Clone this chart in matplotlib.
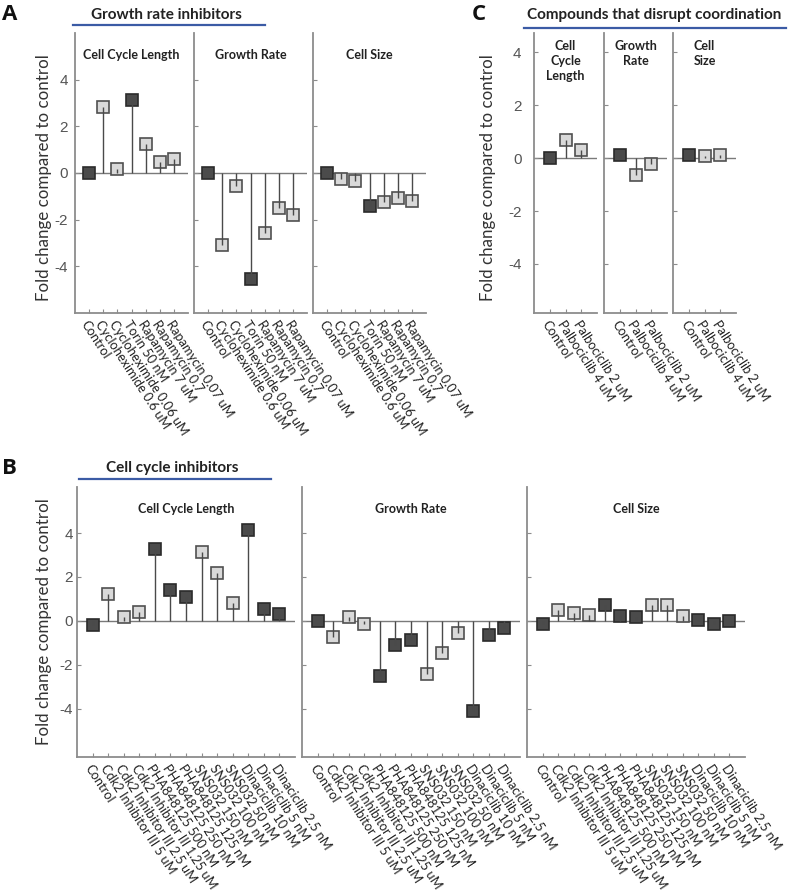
import matplotlib
matplotlib.use('Agg')
from matplotlib import pyplot as plt
from matplotlib.lines import Line2D

W, H = 790, 890
DARK_FACE = '#4b4b4b'
DARK_EDGE = '#2b2b2b'
LIGHT_FACE = '#d9d9d9'
LIGHT_EDGE = '#505050'
STEM = '#4a4a4a'
AXIS = '#8c8c8c'
BLUE = '#3b5ba5'
LABEL_FONT = 'Lato'
NUM_FONT = 'Liberation Sans'

# ---- data ----
A_LABELS = ['Control', 'Cycloheximide 0.6 uM', 'Cycloheximide 0.06 uM', 'Torin 50 nM',
            'Rapamycin 7 uM', 'Rapamycin 0.7', 'Rapamycin 0.07 uM']
A_DARK = [1, 0, 0, 1, 0, 0, 0]
A_CYCLE = [0.0, 2.83, 0.19, 3.13, 1.26, 0.46, 0.60]
A_GROWTH = [0.0, -3.08, -0.54, -4.55, -2.55, -1.52, -1.79]
A_SIZE = [0.0, -0.26, -0.33, -1.40, -1.26, -1.05, -1.18]

C_LABELS = ['Control', 'Palbociclib 4 uM', 'Palbociclib 2 uM']
C_DARK = [1, 0, 0]
C_CYCLE = [0.0, 0.69, 0.29]
C_GROWTH = [0.11, -0.65, -0.21]
C_SIZE = [0.10, 0.06, 0.10]

B_LABELS = ['Control', 'Cdk2 Inhibitor III 5 uM', 'Cdk2 Inhibitor III 2.5 uM',
            'Cdk2 Inhibitor III 1.25 uM', 'PHA848125 500 nM', 'PHA848125 250 nM',
            'PHA848125 125 nM', 'SNS032 150 nM', 'SNS032 100 nM', 'SNS032 50 nM',
            'Dinaciclib 10 nM', 'Dinaciclib 5 nM', 'Dinaciclib 2.5 nM']
B_DARK = [1, 0, 0, 0, 1, 1, 1, 0, 0, 0, 1, 1, 1]
B_CYCLE = [-0.17, 1.23, 0.20, 0.42, 3.26, 1.41, 1.08, 3.12, 2.17, 0.82, 4.15, 0.52, 0.30]
B_GROWTH = [0.0, -0.74, 0.18, -0.14, -2.53, -1.12, -0.88, -2.40, -1.45, -0.55, -4.10, -0.64, -0.32]
B_SIZE = [-0.15, 0.48, 0.35, 0.27, 0.74, 0.24, 0.17, 0.71, 0.71, 0.23, 0.05, -0.12, -0.02]

YTICKS = [-4, -2, 0, 2, 4]

fig = plt.figure(figsize=(W / 100, H / 100), dpi=100)


def px(x0, y0, x1, y1):
    # pixel box (from top-left) -> figure rect
    return [x0 / W, 1 - y1 / H, (x1 - x0) / W, (y1 - y0) / H]


def stem_panel(rect, vals, dark, labels, ylim, title, ms, first=False, ypad=5,
               title_y=0.92, title_va='center'):
    ax = fig.add_axes(rect)
    x = list(range(1, len(vals) + 1))
    ax.axhline(0, color='#7a7a7a', lw=1.0, zorder=1)
    for xi, v, d in zip(x, vals, dark):
        ax.plot(xi, v, 's', ms=ms, mew=1.2,
                mfc=DARK_FACE if d else LIGHT_FACE,
                mec=DARK_EDGE if d else LIGHT_EDGE, zorder=2)
    ax.vlines(x, 0, vals, color=STEM, lw=1.0, zorder=3)
    ax.set_xlim(0, len(vals) + 1)
    ax.set_ylim(*ylim)
    ax.set_xticks(x)
    ax.set_xticklabels(labels, rotation=-57, ha='left', va='top',
                       rotation_mode='anchor', fontsize=9.3, family=LABEL_FONT,
                       color='#222222')
    ax.set_yticks(YTICKS)
    ax.set_yticklabels([str(t) for t in YTICKS], fontsize=11, family=NUM_FONT,
                       color='#555555')
    ax.tick_params(direction='in', length=3, width=0.8, color=AXIS)
    ax.tick_params(axis='x', pad=4)
    ax.tick_params(axis='y', pad=ypad, labelleft=first)
    for s in ['top', 'right']:
        ax.spines[s].set_visible(False)
    for s in ['left', 'bottom']:
        ax.spines[s].set_color(AXIS)
        ax.spines[s].set_linewidth(1.3)
    ax.text(0.5, title_y, title, transform=ax.transAxes, ha='center', va=title_va,
            fontsize=9, fontweight='bold', family=LABEL_FONT, color='#222222',
            linespacing=1.3)
    return ax


# Panel A
stem_panel(px(75, 33, 188, 313), A_CYCLE, A_DARK, A_LABELS, (-6, 6),
           'Cell Cycle Length', 8, first=True)
stem_panel(px(194, 33, 307, 313), A_GROWTH, A_DARK, A_LABELS, (-6, 6),
           'Growth Rate', 8)
stem_panel(px(313, 33, 426, 313), A_SIZE, A_DARK, A_LABELS, (-6, 6),
           'Cell Size', 8)

# Panel C
c_ylim = (-5.85, 4.72)
stem_panel(px(534, 33, 597, 313), C_CYCLE, C_DARK, C_LABELS, c_ylim,
           'Cell\nCycle\nLength', 8, first=True, ypad=9, title_y=0.975, title_va='top')
stem_panel(px(604, 33, 667, 313), C_GROWTH, C_DARK, C_LABELS, c_ylim,
           'Growth\nRate', 8, title_y=0.975, title_va='top')
stem_panel(px(673, 33, 736, 313), C_SIZE, C_DARK, C_LABELS, c_ylim,
           'Cell\nSize', 8, title_y=0.975, title_va='top')

# Panel B
b_ylim = (-6.2, 6.1)
stem_panel(px(77, 487, 295, 757), B_CYCLE, B_DARK, B_LABELS, b_ylim,
           'Cell Cycle Length', 8.7, first=True, ypad=3)
stem_panel(px(302, 487, 520, 757), B_GROWTH, B_DARK, B_LABELS, b_ylim,
           'Growth Rate', 8.7)
stem_panel(px(527, 487, 745, 757), B_SIZE, B_DARK, B_LABELS, b_ylim,
           'Cell Size', 8.7)

# y labels
for xp, yp in [(44, 178), (44, 622), (488, 178)]:
    fig.text(xp / W, 1 - yp / H, 'Fold change compared to control', rotation=90,
             ha='center', va='center', fontsize=12.2, family=LABEL_FONT, color='#333333')

# group headers with blue rules
headers = [('Growth rate inhibitors', 166, 15, 73, 265, 25),
           ('Cell cycle inhibitors', 172, 468, 79, 271, 479),
           ('Compounds that disrupt coordination', 654, 15, 524, 786, 28)]
for txt, tx, ty, x0, x1, ly in headers:
    fig.text(tx / W, 1 - ty / H, txt, ha='center', va='center', fontsize=11,
             fontweight='bold', family=LABEL_FONT, color='#222222')
    fig.add_artist(Line2D([x0 / W, x1 / W], [1 - ly / H, 1 - ly / H],
                          color=BLUE, lw=1.6, transform=fig.transFigure))

# panel letters
for txt, tx, ty in [('A', 10, 15), ('B', 9, 468), ('C', 479, 15)]:
    fig.text(tx / W, 1 - ty / H, txt, ha='center', va='center', fontsize=16,
             fontweight='bold', family=['Open Sans', 'DejaVu Sans'], color='#111111')

fig.savefig('out.png', dpi=100, facecolor='white')
